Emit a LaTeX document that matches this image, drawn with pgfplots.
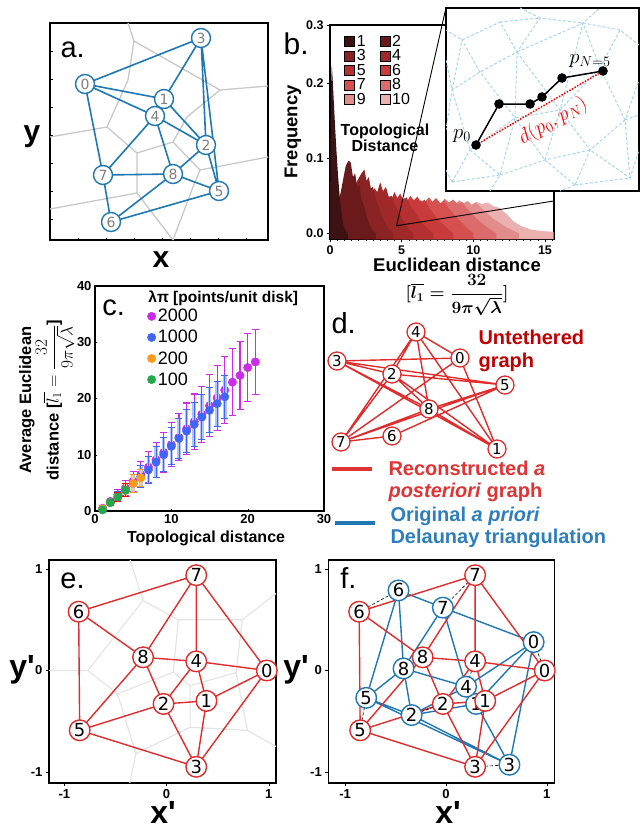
\documentclass[border=0pt]{standalone}
\usepackage{pgfplots}
\pgfplotsset{compat=1.18}
\usepackage{amsmath}
\usepackage{fontspec}
\setmainfont{Liberation Sans}
\newfontfamily\dv{DejaVu Sans}
\newfontfamily\lsraw{Liberation Sans}
\definecolor{cb}{HTML}{1F77B4}
\definecolor{cr}{HTML}{E02C2C}
\definecolor{vgray}{HTML}{C8C8C8}
\definecolor{vgrayl}{HTML}{E4E4E4}
\definecolor{h1}{HTML}{3C1212}
\definecolor{h2}{HTML}{6A1A1A}
\definecolor{h3}{HTML}{8A2424}
\definecolor{h4}{HTML}{A02828}
\definecolor{h5}{HTML}{B53030}
\definecolor{h6}{HTML}{C93A3A}
\definecolor{h7}{HTML}{D65050}
\definecolor{h8}{HTML}{DC6B6B}
\definecolor{h9}{HTML}{E38C8C}
\definecolor{h10}{HTML}{EBB0B0}
\definecolor{tri}{HTML}{A9D6F5}
\definecolor{cmag}{HTML}{CC2BEA}
\definecolor{cblu}{HTML}{3F66F8}
\definecolor{cora}{HTML}{FF9A1A}
\definecolor{cgre}{HTML}{22AA4A}
\definecolor{dred}{HTML}{C00000}
\definecolor{lred}{HTML}{E03333}
\definecolor{lblue}{HTML}{2E7EBE}
\newcommand{\fs}[1]{\fontsize{#1}{#1}\selectfont}
\pgfplotsset{/pgf/number format/assume math mode=true,
  pxaxis/.style={scale only axis, anchor=north west},
  sq legend/.style={/pgfplots/legend image code/.code={\draw[##1] (0pt,-5pt) rectangle (10pt,5pt);}}}
\begin{document}
\begin{tikzpicture}
\useasboundingbox (0pt,0pt) rectangle (644pt,-829pt);
% ================= a =================
\begin{axis}[pxaxis, at={(50pt,-23pt)}, width=218pt, height=217pt,
  xmin=50, xmax=268, ymin=23, ymax=240, y dir=reverse, clip mode=individual,
  axis line style={line width=1.3pt},
  xtick={78,106,134,162,190,218,246}, ytick={51,79,107,135,163,191,219},
  xticklabels={}, yticklabels={}, tick align=inside, major tick length=2.5pt,
  xtick pos=bottom, ytick pos=left, tick style={line width=0.6pt, black}]
\addplot[vgray, line width=1.3pt, unbounded coords=jump] coordinates {
 (128,23) (134,41) (220,90) (268,86) (nan,nan)
 (134,41) (128,80) (107,127) (50,137) (nan,nan)
 (107,127) (137,153) (173,142) (187,117) (220,90) (nan,nan)
 (137,153) (137,193) (50,209) (nan,nan)
 (137,193) (173,240) (nan,nan)
 (173,142) (200,170) (268,157) (nan,nan)
 (200,170) (193,187) (173,240)
};
\addplot[cb, line width=1.6pt, unbounded coords=jump] coordinates {
 (85,84) (201,38) (nan,nan)
 (85,84) (164,99) (nan,nan)
 (85,84) (155,116) (nan,nan)
 (85,84) (103,175) (nan,nan)
 (201,38) (164,99) (nan,nan)
 (201,38) (206,145) (nan,nan)
 (201,38) (219,191) (nan,nan)
 (164,99) (155,116) (nan,nan)
 (164,99) (206,145) (nan,nan)
 (155,116) (206,145) (nan,nan)
 (155,116) (103,175) (nan,nan)
 (155,116) (173,174) (nan,nan)
 (206,145) (173,174) (nan,nan)
 (206,145) (219,191) (nan,nan)
 (103,175) (173,174) (nan,nan)
 (103,175) (111,222) (nan,nan)
 (173,174) (111,222) (nan,nan)
 (173,174) (219,191) (nan,nan)
 (111,222) (219,191)
};
\addplot[only marks, mark=*, mark size=9.5pt, mark options={draw=cb, fill=white, line width=1.4pt},
  nodes near coords, point meta=explicit symbolic, nodes near coords align=center,
  every node near coord/.append style={font=\dv\fs{14}, text=gray, anchor=center}]
  table[meta=l]{
x y l
85 84 0
201 38 3
164 99 1
155 116 4
206 145 2
103 175 7
173 174 8
219 191 5
111 222 6
};
\node[font=\fs{29}, anchor=base west] at (axis cs:57,57) {a.};
\node[font=\bfseries\fs{30}, anchor=base] at (axis cs:32,141) {y};
\node[font=\bfseries\fs{30}, anchor=base] at (axis cs:161,267) {x};
\end{axis}
% ================= b =================
\begin{axis}[pxaxis, at={(330pt,-25pt)}, width=224pt, height=214pt,
  xmin=0, xmax=15.63, ymin=-0.0076, ymax=0.2777, clip=false,
  axis line style={line width=1.6pt},
  xtick={0,5,10,15}, ytick={0,0.1,0.2,0.2777}, yticklabels={0.0,0.1,0.2,0.3},
  minor xtick={0.5,1,...,15.5},
  tick label style={font=\bfseries\fs{12.5}}, tick align=outside, major tick length=3pt, minor tick length=2pt,
  xtick pos=bottom, ytick pos=left, tick style={line width=0.8pt, black}, minor tick style={line width=0.6pt, black},
  xlabel={Euclidean distance}, ylabel={Frequency},
  every axis x label/.style={at={(axis description cs:0.567,-0.1215)}, anchor=center, font=\bfseries\fs{18.5}},
  every axis y label/.style={at={(axis description cs:-0.165,0.5)}, anchor=center, rotate=90, font=\bfseries\fs{18.5}},
  legend columns=2,
  legend style={at={(axis description cs:0.05,0.972)}, anchor=north west, draw=none, fill=none,
    font=\fs{16}, row sep=-2.2pt, /tikz/every even column/.append style={column sep=12pt}},
  legend cell align=left]
\addplot[forget plot, fill=h10, draw=none] coordinates {(5.6,-0.0076) (5.6,0) (6.6,0.009) (7.6,0.021) (8.6,0.031) (9.4,0.038) (9.8,0.037) (10.2,0.042) (10.6,0.039) (11.0,0.041) (11.4,0.036) (11.8,0.034) (12.3,0.026) (12.8,0.016) (13.3,0.010) (14.0,0.005) (14.8,0.003) (15.6,0.002) (15.6,-0.0076)};
\addplot[forget plot, fill=h9, draw=none] coordinates {(5.0,-0.0076) (5.0,0) (5.9,0.009) (6.8,0.022) (7.7,0.033) (8.4,0.040) (8.7,0.038) (9.0,0.044) (9.3,0.040) (9.6,0.043) (9.9,0.038) (10.2,0.041) (10.7,0.031) (11.4,0.019) (12.3,0.008) (13.2,0) (13.2,-0.0076)};
\addplot[forget plot, fill=h8, draw=none] coordinates {(4.4,-0.0076) (4.4,0) (5.2,0.010) (6.0,0.024) (6.8,0.035) (7.4,0.042) (7.7,0.039) (8.0,0.046) (8.3,0.041) (8.6,0.045) (8.9,0.039) (9.2,0.042) (9.6,0.032) (10.2,0.020) (10.9,0.009) (11.6,0) (11.6,-0.0076)};
\addplot[forget plot, fill=h7, draw=none] coordinates {(3.7,-0.0076) (3.7,0) (4.4,0.010) (5.1,0.025) (5.8,0.037) (6.3,0.044) (6.6,0.041) (6.9,0.048) (7.15,0.042) (7.4,0.047) (7.7,0.040) (7.95,0.043) (8.3,0.033) (8.8,0.022) (9.4,0.010) (10.0,0) (10.0,-0.0076)};
\addplot[forget plot, fill=h6, draw=none] coordinates {(3.0,-0.0076) (3.0,0) (3.6,0.012) (4.2,0.028) (4.8,0.040) (5.2,0.047) (5.4,0.043) (5.6,0.050) (5.85,0.044) (6.1,0.049) (6.35,0.041) (6.6,0.045) (6.9,0.034) (7.4,0.022) (8.0,0.010) (8.6,0) (8.6,-0.0076)};
\addplot[forget plot, fill=h5, draw=none] coordinates {(2.3,-0.0076) (2.3,0) (2.8,0.012) (3.3,0.028) (3.8,0.042) (4.1,0.050) (4.3,0.046) (4.5,0.055) (4.7,0.047) (4.9,0.053) (5.1,0.044) (5.35,0.048) (5.6,0.037) (6.0,0.026) (6.5,0.012) (7.2,0) (7.2,-0.0076)};
\addplot[forget plot, fill=h4, draw=none] coordinates {(1.6,-0.0076) (1.6,0) (2.0,0.012) (2.4,0.030) (2.8,0.048) (3.1,0.060) (3.3,0.055) (3.5,0.068) (3.7,0.056) (3.9,0.062) (4.1,0.048) (4.3,0.050) (4.6,0.035) (5.0,0.020) (5.4,0.008) (5.8,0) (5.8,-0.0076)};
\addplot[forget plot, fill=h3, draw=none] coordinates {(0.8,-0.0076) (0.8,0) (1.2,0.020) (1.6,0.050) (1.9,0.070) (2.2,0.080) (2.4,0.085) (2.55,0.070) (2.7,0.075) (2.85,0.060) (3.0,0.062) (3.2,0.045) (3.4,0.035) (3.7,0.020) (4.0,0.008) (4.4,0) (4.4,-0.0076)};
\addplot[forget plot, fill=h2, draw=none] coordinates {(0.3,-0.0076) (0.3,0) (0.5,0.020) (0.7,0.050) (0.9,0.070) (1.1,0.090) (1.3,0.097) (1.45,0.094) (1.6,0.075) (1.75,0.080) (1.9,0.062) (2.05,0.065) (2.2,0.045) (2.4,0.035) (2.6,0.020) (2.8,0.010) (3.0,0.004) (3.2,0) (3.2,-0.0076)};
\addplot[forget plot, fill=h1, draw=none] coordinates {(0,-0.0076) (0,0) (0.03,0.12) (0.08,0.20) (0.13,0.225) (0.2,0.20) (0.28,0.17) (0.36,0.14) (0.45,0.11) (0.55,0.08) (0.65,0.055) (0.75,0.035) (0.85,0.02) (0.95,0.01) (1.1,0.003) (1.25,0) (1.25,-0.0076)};
\addplot[forget plot, black, line width=0.9pt] coordinates {(8.09,0.3004) (4.65,0.0101) (15.63,0.0431)};
\addlegendimage{sq legend, fill=h1, draw=none}
\addlegendentry{1}
\addlegendimage{sq legend, fill=h2, draw=none}
\addlegendentry{2}
\addlegendimage{sq legend, fill=h3, draw=none}
\addlegendentry{3}
\addlegendimage{sq legend, fill=h4, draw=none}
\addlegendentry{4}
\addlegendimage{sq legend, fill=h5, draw=none}
\addlegendentry{5}
\addlegendimage{sq legend, fill=h6, draw=none}
\addlegendentry{6}
\addlegendimage{sq legend, fill=h7, draw=none}
\addlegendentry{7}
\addlegendimage{sq legend, fill=h8, draw=none}
\addlegendentry{8}
\addlegendimage{sq legend, fill=h9, draw=none}
\addlegendentry{9}
\addlegendimage{sq legend, fill=h10, draw=none}
\addlegendentry{10}
\node[font=\bfseries\fs{16}, align=center] at (axis description cs:0.2455,0.472) {Topological\\Distance};
\node[font=\fs{30}, anchor=base west] at (axis description cs:-0.223,0.864) {b.};
\node[font=\bfseries\fs{17}] at (axis description cs:0.567,-0.262) {{\boldmath$[\overline{l_1}=\dfrac{32}{9\pi\sqrt{\lambda}}]$}};
\end{axis}
% ================= inset =================
\begin{axis}[pxaxis, at={(446pt,-8pt)}, width=193pt, height=183pt,
  xmin=446, xmax=639, ymin=8, ymax=191, y dir=reverse, ticks=none,
  axis background/.style={fill=white}, axis line style={line width=1.8pt}, clip mode=individual]
\addplot[tri, line width=1pt, dash pattern=on 3pt off 2pt, unbounded coords=jump] coordinates {
 (446,60) (452,90) (480,72) (517,52) (540,18) (583,23) (620,30) (639,45) (nan,nan)
 (452,90) (462,40) (480,72) (515,118) (517,52) (500,22) (462,40) (446,30) (nan,nan)
 (500,22) (540,18) (520,8) (nan,nan)
 (517,52) (583,23) (600,8) (nan,nan)
 (517,52) (560,110) (583,23) (600,68) (620,30) (nan,nan)
 (600,68) (625,120) (639,80) (nan,nan)
 (600,68) (560,110) (515,118) (470,150) (452,90) (446,130) (nan,nan)
 (470,150) (500,175) (515,118) (545,160) (560,110) (590,150) (625,120) (630,178) (590,150) (545,160) (500,175) (nan,nan)
 (545,160) (575,185) (590,150) (nan,nan)
 (575,185) (630,178) (639,150) (nan,nan)
 (575,185) (560,191) (nan,nan)
 (452,182) (470,150) (nan,nan)
 (452,182) (500,175) (490,191) (nan,nan)
 (446,170) (452,182) (nan,nan)
 (625,120) (639,115)
};
\addplot[red, line width=1.5pt, dash pattern=on 1.5pt off 1.5pt] coordinates {(476,145) (603,71)};
\addplot[black, line width=1.5pt, mark=*, mark size=4pt] coordinates {(476,145) (499,104) (530,104) (542,97) (562,78) (603,71)};
\node[font=\fs{22}] at (axis cs:462,136) {$p_0$};
\node[font=\fs{20}] at (axis cs:590,61) {$p_{N=5}$};
\node[font=\fs{20}, text=red, rotate=30] at (axis cs:553,121) {$d(p_0,p_N)$};
\end{axis}
% ================= c =================
\begin{axis}[pxaxis, at={(95pt,-286pt)}, width=229pt, height=225pt,
  xmin=0, xmax=30, ymin=0, ymax=40, clip mode=individual,
  axis line style={line width=1.6pt}, xtick={0,10,20,30}, ytick={0,10,20,30,40},
  tick label style={font=\bfseries\fs{13}}, xtick pos=bottom, ytick pos=left,
  major tick length=2pt, tick style={black},
  xlabel={Topological distance},
  ylabel={Average Euclidean\\distance [$\overline{l_1}=\dfrac{32}{9\pi\sqrt{\lambda}}$]},
  every axis x label/.style={at={(axis description cs:0.485,-0.12)}, anchor=center, font=\bfseries\fs{16}},
  every axis y label/.style={at={(axis description cs:-0.21,0.493)}, anchor=center, rotate=90, align=center, font=\bfseries\fs{16.5}},
  legend style={at={(axis description cs:0.215,0.915)}, anchor=north west, draw=none, fill=none,
    font=\fs{18}, row sep=3pt},
  legend cell align=left]
\addplot[only marks, mark=*, mark size=4.2pt, color=cmag,
  error bars/.cd, y dir=both, y explicit,
  error bar style={line width=1.1pt, cmag},
  error mark options={rotate=90, mark size=3.5pt, line width=1.1pt, cmag}]
  table[x=x, y=y, y error=e] {
x y e
1 0.5 0.3
2 1.7 0.6
3 2.9 1.0
4 4.1 1.4
5 5.3 1.8
6 6.5 2.3
7 7.8 2.8
8 9.1 3.1
9 10.4 3.5
10 11.8 3.9
11 13.1 4.2
12 14.6 4.6
13 15.9 4.9
14 17.2 5.0
15 18.7 5.5
16 20.1 5.8
17 21.5 6.0
18 22.9 6.0
19 24.1 6.0
20 25.5 6.0
21 26.5 5.8
};
\addlegendentry{2000}
\addplot[forget plot, only marks, mark=none,
  error bars/.cd, y dir=both, y explicit,
  error bar style={line width=3.5pt, cblu!40}, error mark=none]
  table[x=x, y=y, y error=e] {
x y e
1 0.4 0.3
2 1.5 0.6
3 2.6 0.9
4 3.7 1.2
5 4.9 1.6
6 6.1 2.0
7 7.3 2.4
8 8.7 2.7
9 10.0 3.0
10 11.5 3.3
11 12.9 3.6
12 14.2 3.8
13 15.4 3.9
14 16.7 4.0
15 17.9 4.0
16 19.1 4.0
17 20.3 3.8
};
\addplot[only marks, mark=*, mark size=4.2pt, color=cblu,
  error bars/.cd, y dir=both, y explicit,
  error bar style={line width=0.9pt, cblu},
  error mark options={rotate=90, mark size=3.5pt, line width=0.9pt, cblu}]
  table[x=x, y=y, y error=e] {
x y e
1 0.4 0.3
2 1.5 0.6
3 2.6 0.9
4 3.7 1.2
5 4.9 1.6
6 6.1 2.0
7 7.3 2.4
8 8.7 2.7
9 10.0 3.0
10 11.5 3.3
11 12.9 3.6
12 14.2 3.8
13 15.4 3.9
14 16.7 4.0
15 17.9 4.0
16 19.1 4.0
17 20.3 3.8
};
\addlegendentry{1000}
\addplot[only marks, mark=*, mark size=4.2pt, color=cora,
  error bars/.cd, y dir=both, y explicit,
  error bar style={line width=2.5pt, cora!55},
  error mark options={rotate=90, mark size=3.5pt, line width=1pt, cora}]
  table[x=x, y=y, y error=e] {
x y e
1 0.4 0.3
2 1.5 0.5
3 2.5 0.8
4 3.7 1.2
5 4.9 1.6
6 5.9 1.5
};
\addlegendentry{200}
\addplot[only marks, mark=*, mark size=4.2pt, color=cgre,
  error bars/.cd, y dir=both, y explicit,
  error bar style={line width=1pt, red},
  error mark options={rotate=90, mark size=3.5pt, line width=1pt, red}]
  table[x=x, y=y, y error=e] {
x y e
1 0.2 0.2
2 1.5 0.5
3 2.5 0.8
4 3.7 1.2
};
\addlegendentry{100}
\node[font=\bfseries\fs{15.5}] at (axis description cs:0.56,0.947) {λπ [points/unit disk]};
\node[font=\fs{29}, anchor=base west] at (axis description cs:0.017,0.871) {c.};
\end{axis}
% ================= d =================
\begin{axis}[pxaxis, at={(320pt,-300pt)}, width=320pt, height=260pt,
  xmin=320, xmax=640, ymin=300, ymax=560, y dir=reverse, axis lines=none, clip mode=individual]
\addplot[cr, line width=1.4pt, unbounded coords=jump] coordinates {
 (416,332) (460,358) (nan,nan)
 (416,332) (392,374) (nan,nan)
 (416,332) (341,442) (nan,nan)
 (416,332) (429,409) (nan,nan)
 (416,332) (497,449) (nan,nan)
 (337,361) (460,358) (nan,nan)
 (337,361) (392,374) (nan,nan)
 (337,361) (505,385) (nan,nan)
 (337,361) (429,409) (nan,nan)
 (337,361) (497,449) (nan,nan)
 (392,374) (505,385) (nan,nan)
 (392,374) (429,409) (nan,nan)
 (392,374) (497,449) (nan,nan)
 (392,374) (341,442) (nan,nan)
 (460,358) (341,442) (nan,nan)
 (460,358) (497,449) (nan,nan)
 (429,409) (505,385) (nan,nan)
 (429,409) (341,442) (nan,nan)
 (429,409) (497,449) (nan,nan)
 (505,385) (341,442) (nan,nan)
 (505,385) (392,436) (nan,nan)
 (392,436) (341,442)
};
\addplot[only marks, mark=*, mark size=9pt, mark options={draw=cr, fill=white, line width=1.3pt},
  nodes near coords, point meta=explicit symbolic, nodes near coords align=center,
  every node near coord/.append style={font=\dv\fs{15}, text=black, anchor=center}]
  table[meta=l]{
x y l
416 332 4
460 358 0
337 361 3
392 374 2
505 385 5
429 409 8
392 436 6
341 442 7
497 449 1
};
\addplot[lred, line width=4pt] coordinates {(332,469) (372,469)};
\addplot[cb, line width=4pt] coordinates {(335,523) (375,523)};
\node[font=\fs{29}, anchor=base west] at (axis cs:328,333) {d.};
\node[font=\bfseries\fs{20}, text=dred, anchor=base west] at (axis cs:475,344) {Untethered};
\node[font=\bfseries\fs{20}, text=dred, anchor=base west] at (axis cs:475,367) {graph};
\node[font=\bfseries\fs{20}, text=lred, anchor=base west] at (axis cs:385,475) {Reconstructed \textit{a}};
\node[font=\bfseries\fs{20}, text=lred, anchor=base west] at (axis cs:385,497) {\textit{posteriori} graph};
\node[font=\bfseries\fs{20}, text=lblue, anchor=base west] at (axis cs:387,521) {Original \textit{a priori}};
\node[font=\bfseries\fs{20}, text=lblue, anchor=base west] at (axis cs:387,543) {Delaunay triangulation};
\end{axis}
% ================= e =================
\begin{axis}[pxaxis, at={(49pt,-560pt)}, width=227pt, height=223pt,
  xmin=-1.15, xmax=1.07, ymin=-1.11, ymax=1.09, clip mode=individual,
  axis line style={line width=1.3pt}, xtick={-1,0,1}, ytick={-1,0,1},
  tick label style={font=\bfseries\fs{13}}, xtick pos=bottom, ytick pos=left,
  tick align=outside, major tick length=3pt, tick style={black},
  xlabel={x'}, ylabel={y'},
  every axis x label/.style={at={(axis description cs:0.502,-0.182)}, anchor=base, font=\lsraw\bfseries\fs{32}},
  every axis y label/.style={at={(axis description cs:-0.119,0.475)}, anchor=base, font=\lsraw\bfseries\fs{32}}]
\addplot[vgrayl, line width=1.2pt, unbounded coords=jump] coordinates {
 (-0.36,1.10) (-0.23,0.69) (0.115,0.50) (0.74,0.50) (1.07,0.76) (nan,nan)
 (-0.23,0.69) (-0.77,0) (-1.15,0) (nan,nan)
 (-0.77,0) (-0.48,-0.23) (0.066,-0.016) (0.115,0.50) (nan,nan)
 (0.74,0.50) (0.68,-0.02) (0.79,-0.59) (1.07,-0.75) (nan,nan)
 (0.066,-0.016) (0.23,-0.15) (0.68,-0.02) (nan,nan)
 (0.23,-0.15) (0.23,-0.56) (0.79,-0.59) (nan,nan)
 (0.23,-0.56) (-0.30,-0.82) (-0.36,-1.11) (nan,nan)
 (-0.48,-0.23) (-0.30,-0.82)
};
\addplot[cr, line width=1.4pt, unbounded coords=jump] coordinates {
 (-0.86,0.58) (0.29,0.94) (nan,nan)
 (-0.86,0.58) (-0.23,0.13) (nan,nan)
 (-0.86,0.58) (-0.85,-0.59) (nan,nan)
 (0.29,0.94) (-0.23,0.13) (nan,nan)
 (0.29,0.94) (0.29,0.09) (nan,nan)
 (0.29,0.94) (0.98,0) (nan,nan)
 (-0.23,0.13) (0.29,0.09) (nan,nan)
 (-0.23,0.13) (-0.03,-0.33) (nan,nan)
 (-0.23,0.13) (-0.85,-0.59) (nan,nan)
 (0.29,0.09) (0.98,0) (nan,nan)
 (0.29,0.09) (-0.03,-0.33) (nan,nan)
 (0.29,0.09) (0.39,-0.30) (nan,nan)
 (0.98,0) (0.39,-0.30) (nan,nan)
 (0.98,0) (0.29,-0.95) (nan,nan)
 (-0.03,-0.33) (0.39,-0.30) (nan,nan)
 (-0.03,-0.33) (-0.85,-0.59) (nan,nan)
 (-0.03,-0.33) (0.29,-0.95) (nan,nan)
 (0.39,-0.30) (0.29,-0.95) (nan,nan)
 (-0.85,-0.59) (0.29,-0.95)
};
\addplot[only marks, mark=*, mark size=10.3pt, mark options={draw=cr, fill=white, line width=1.4pt},
  nodes near coords, point meta=explicit symbolic, nodes near coords align=center,
  every node near coord/.append style={font=\dv\fs{18}, text=black, anchor=center}]
  table[meta=l]{
x y l
0.98 0 0
0.39 -0.30 1
-0.03 -0.33 2
0.29 -0.95 3
0.29 0.09 4
-0.85 -0.59 5
-0.86 0.58 6
0.29 0.94 7
-0.23 0.13 8
};
\node[font=\fs{29}, anchor=base west] at (axis description cs:0.035,0.874) {e.};
\end{axis}
% ================= f =================
\begin{axis}[pxaxis, at={(328.3pt,-560pt)}, width=226pt, height=223pt,
  xmin=-1.166, xmax=1.075, ymin=-1.11, ymax=1.09, clip mode=individual,
  axis line style={line width=1.3pt}, xtick={-1,0,1}, ytick={-1,0,1},
  tick label style={font=\bfseries\fs{13}}, xtick pos=bottom, ytick pos=left,
  tick align=outside, major tick length=3pt, tick style={black},
  xlabel={x'}, ylabel={y'},
  every axis x label/.style={at={(axis description cs:0.53,-0.182)}, anchor=base, font=\lsraw\bfseries\fs{32}},
  every axis y label/.style={at={(axis description cs:-0.143,0.475)}, anchor=base, font=\lsraw\bfseries\fs{32}}]
\addplot[cb, line width=1.4pt, unbounded coords=jump] coordinates {
 (0.87,0.28) (0.63,-0.93) (nan,nan)
 (0.87,0.28) (0.30,-0.33) (nan,nan)
 (0.87,0.28) (0.20,-0.16) (nan,nan)
 (0.87,0.28) (-0.03,0.62) (nan,nan)
 (0.63,-0.93) (0.30,-0.33) (nan,nan)
 (0.63,-0.93) (-0.34,-0.44) (nan,nan)
 (0.63,-0.93) (-0.79,-0.27) (nan,nan)
 (0.30,-0.33) (0.20,-0.16) (nan,nan)
 (0.30,-0.33) (-0.34,-0.44) (nan,nan)
 (0.20,-0.16) (-0.34,-0.44) (nan,nan)
 (0.20,-0.16) (-0.03,0.62) (nan,nan)
 (0.20,-0.16) (-0.42,0.02) (nan,nan)
 (-0.34,-0.44) (-0.42,0.02) (nan,nan)
 (-0.34,-0.44) (-0.79,-0.27) (nan,nan)
 (-0.03,0.62) (-0.42,0.02) (nan,nan)
 (-0.03,0.62) (-0.47,0.79) (nan,nan)
 (-0.42,0.02) (-0.47,0.79) (nan,nan)
 (-0.42,0.02) (-0.79,-0.27) (nan,nan)
 (-0.47,0.79) (-0.79,-0.27)
};
\addplot[cr, line width=1.4pt, unbounded coords=jump] coordinates {
 (-0.86,0.58) (0.29,0.94) (nan,nan)
 (-0.86,0.58) (-0.23,0.13) (nan,nan)
 (-0.86,0.58) (-0.85,-0.59) (nan,nan)
 (0.29,0.94) (-0.23,0.13) (nan,nan)
 (0.29,0.94) (0.29,0.09) (nan,nan)
 (0.29,0.94) (0.98,0) (nan,nan)
 (-0.23,0.13) (0.29,0.09) (nan,nan)
 (-0.23,0.13) (-0.03,-0.33) (nan,nan)
 (-0.23,0.13) (-0.85,-0.59) (nan,nan)
 (0.29,0.09) (0.98,0) (nan,nan)
 (0.29,0.09) (-0.03,-0.33) (nan,nan)
 (0.29,0.09) (0.39,-0.30) (nan,nan)
 (0.98,0) (0.39,-0.30) (nan,nan)
 (0.98,0) (0.29,-0.95) (nan,nan)
 (-0.03,-0.33) (0.39,-0.30) (nan,nan)
 (-0.03,-0.33) (-0.85,-0.59) (nan,nan)
 (-0.03,-0.33) (0.29,-0.95) (nan,nan)
 (0.39,-0.30) (0.29,-0.95) (nan,nan)
 (-0.85,-0.59) (0.29,-0.95)
};
\addplot[black, line width=0.6pt, densely dashed, unbounded coords=jump] coordinates {
 (0.98,0) (0.87,0.28) (nan,nan)
 (0.39,-0.30) (0.30,-0.33) (nan,nan)
 (-0.03,-0.33) (-0.34,-0.44) (nan,nan)
 (0.29,-0.95) (0.63,-0.93) (nan,nan)
 (0.29,0.09) (0.20,-0.16) (nan,nan)
 (-0.85,-0.59) (-0.79,-0.27) (nan,nan)
 (-0.86,0.58) (-0.47,0.79) (nan,nan)
 (0.29,0.94) (-0.03,0.62) (nan,nan)
 (-0.23,0.13) (-0.42,0.02)
};
\addplot[only marks, mark=*, mark size=10.3pt, mark options={draw=cb, fill=white, line width=1.4pt},
  nodes near coords, point meta=explicit symbolic, nodes near coords align=center,
  every node near coord/.append style={font=\dv\fs{18}, text=black, anchor=center}]
  table[meta=l]{
x y l
0.87 0.28 0
0.30 -0.33 1
-0.34 -0.44 2
0.63 -0.93 3
0.20 -0.16 4
-0.79 -0.27 5
-0.47 0.79 6
-0.03 0.62 7
-0.42 0.02 8
};
\addplot[only marks, mark=*, mark size=10.3pt, mark options={draw=cr, fill=white, line width=1.4pt},
  nodes near coords, point meta=explicit symbolic, nodes near coords align=center,
  every node near coord/.append style={font=\dv\fs{18}, text=black, anchor=center}]
  table[meta=l]{
x y l
0.98 0 0
0.39 -0.30 1
-0.03 -0.33 2
0.29 -0.95 3
0.29 0.09 4
-0.85 -0.59 5
-0.86 0.58 6
0.29 0.94 7
-0.23 0.13 8
};
\node[font=\fs{29}, anchor=base west] at (axis description cs:0.038,0.87) {f.};
\end{axis}
\end{tikzpicture}
\end{document}
